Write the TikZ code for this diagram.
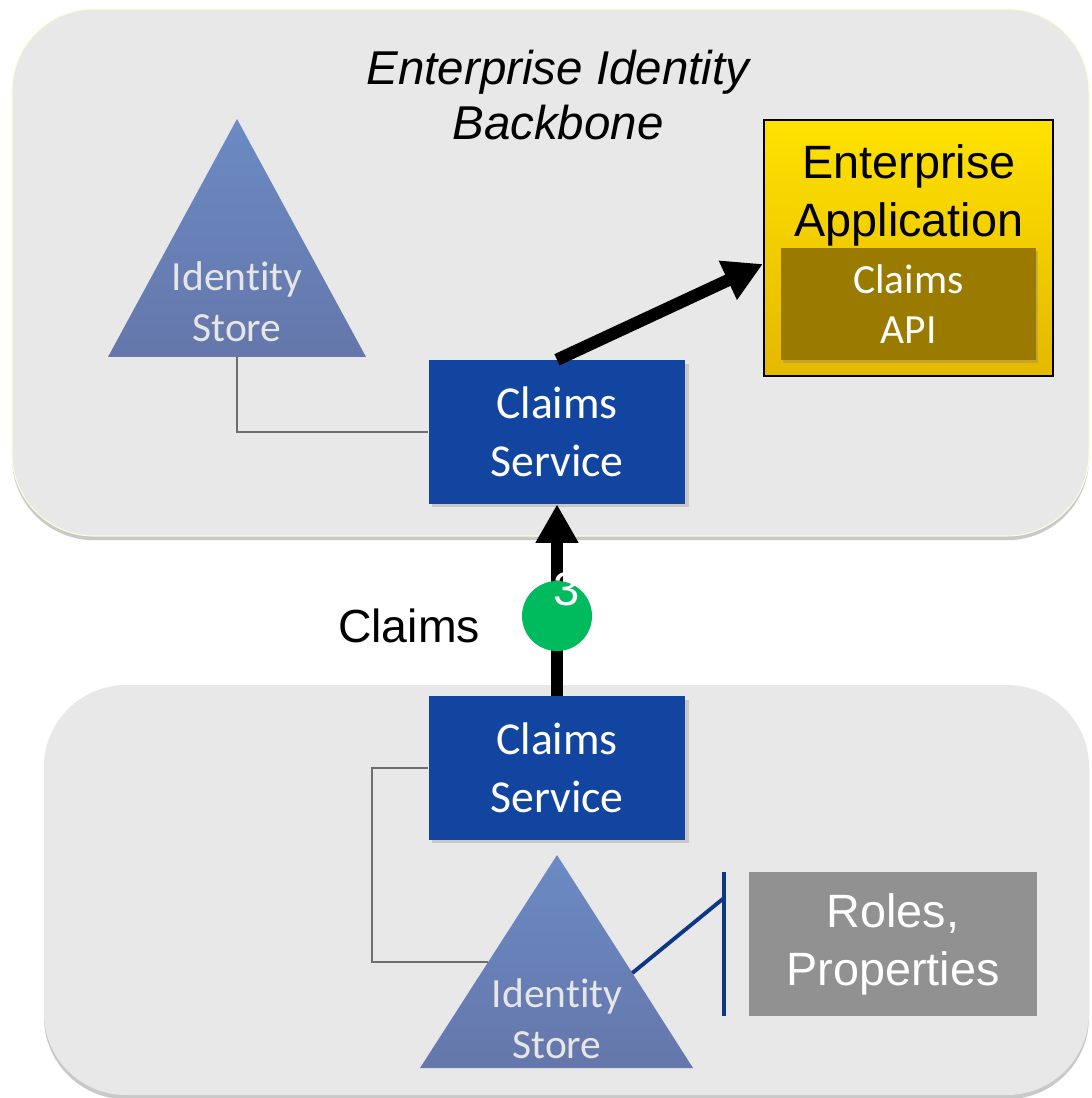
\documentclass[tikz,border=0pt]{standalone}
\usepackage{fontspec}
\setmainfont{Liberation Sans}
\newfontfamily\calibri[Ligatures={NoCommon}]{Carlito}
\usepackage{tikz}
\usepackage{xcolor}
\usetikzlibrary{shapes.geometric, arrows.meta, positioning, calc, shadows}
\definecolor{panelgray}{HTML}{E8E8E8}
\definecolor{svcblue}{HTML}{1245A0}
\definecolor{storetop}{HTML}{6B8AC3}
\definecolor{storebot}{HTML}{6577AB}
\definecolor{storetext}{HTML}{E6E6E6}
\definecolor{appyellow}{HTML}{FFE200}
\definecolor{appgold}{HTML}{E4B800}
\definecolor{apibrown}{HTML}{9A7B00}
\definecolor{attrgray}{HTML}{919191}
\definecolor{badgegreen}{HTML}{00BA5E}
\definecolor{linkgray}{HTML}{6E6E6E}
\definecolor{navy}{HTML}{0C3786}
\tikzstyle{panel} = [rounded corners=0.82cm, fill=panelgray,
                     drop shadow={shadow xshift=0pt, shadow yshift=-1.2pt, fill=black!60, opacity=0.35}]
\tikzstyle{store} = [top color=storetop, bottom color=storebot]
\tikzstyle{storelabel} = [align=center, text=storetext, inner sep=0pt,
                          font=\calibri\fontsize{11.8pt}{14.5pt}\selectfont]
\tikzstyle{service} = [rectangle, minimum width=2.56cm, minimum height=1.43cm,
                       text centered, align=center, fill=svcblue, text=white,
                       font=\calibri\fontsize{13pt}{16.5pt}\selectfont,
                       drop shadow={shadow xshift=1pt, shadow yshift=-1pt, opacity=0.3}]
\tikzstyle{app} = [rectangle, minimum width=2.89cm, minimum height=2.56cm,
                   draw=black, line width=0.6pt, top color=appyellow, bottom color=appgold]
\tikzstyle{apptitle} = [align=center, inner sep=0pt, font=\fontsize{13.3pt}{16.5pt}\selectfont]
\tikzstyle{api} = [rectangle, minimum width=2.55cm, minimum height=1.12cm,
                   align=center, fill=apibrown, text=white,
                   font=\calibri\fontsize{11.8pt}{14.2pt}\selectfont,
                   drop shadow={shadow xshift=0.6pt, shadow yshift=-0.8pt, opacity=0.35}]
\tikzstyle{attr} = [rectangle, minimum width=2.88cm, minimum height=1.43cm,
                    align=center, fill=attrgray, text=white,
                    font=\fontsize{13.3pt}{16.5pt}\selectfont]
\tikzstyle{title} = [align=center, inner sep=0pt, font=\itshape\fontsize{13.5pt}{15.6pt}\selectfont]
\tikzstyle{flowlabel} = [inner sep=0pt, font=\fontsize{13.2pt}{15pt}\selectfont]
\tikzstyle{badge} = [circle, minimum size=0.7cm, inner sep=0pt, fill=badgegreen]
\tikzstyle{num} = [inner sep=0pt, text=white, font=\fontsize{13.4pt}{15pt}\selectfont]
\tikzstyle{fat} = [-{Triangle[length=11pt, width=11.5pt]}, line width=3.5pt]
\tikzstyle{link} = [draw=linkgray, line width=0.45pt]
\tikzstyle{bar} = [draw=navy, line width=1.1pt]

\begin{document}
\begin{tikzpicture}[x=0.01cm, y=-0.01cm]
    \fill[white] (0,0) rectangle (1091,1098);
    \useasboundingbox (0,0) rectangle (1091,1098);

    \path[panel, draw=yellow!15, line width=0.3pt] (12,9) rectangle (1089,536);
    \path[panel] (44,685) rectangle (1089,1095);

    \node[title] (title) at (558,95) {Enterprise Identity\\Backbone};

    \coordinate (top1) at (237,119);
    \coordinate (left1) at (108,357);
    \coordinate (right1) at (366,357);
    \shade[store] (top1) -- (left1) -- (right1) -- cycle;
    \node[storelabel] (store1) at (237,302) {Identity\\Store};

    \node[service] (svc1) at (557,432) {Claims\\Service};
    \node[service] (svc2) at (557,768) {Claims\\Service};

    \node[app] (app) at (908.5,248) {};
    \node[apptitle] (apptitle) at (909,195) {Enterprise\\Application};
    \node[api] (api) at (908.5,304) {Claims\\API};

    \coordinate (base1) at ($(left1)!0.5!(right1)$);
    \draw[link] (base1) |- (svc1.west);

    \draw[fat] (svc1.north) -- ([yshift=-0.16cm]app.west);
    \draw[fat] (svc2.north) -- (svc1.south);

    \node[badge] (badge) at (557,616) {};
    \node[num] (num3) at (567,589) {3};
    \node[flowlabel, anchor=base] (claimslbl) at (409,642) {Claims};

    \coordinate (top2) at (557,855);
    \coordinate (left2) at (420,1068);
    \coordinate (right2) at (693,1068);
    \shade[store] (top2) -- (left2) -- (right2) -- cycle;
    \node[storelabel] (store2) at (557,1019) {Identity\\Store};

    \coordinate (edge2l) at ($(top2)!0.502!(left2)$);
    \coordinate (edge2r) at ($(top2)!0.554!(right2)$);
    \draw[link] (svc2.west) -- ++(-56,0) |- (edge2l);

    \node[attr] (roles) at (893,944) {Roles,\\Properties};
    \draw[bar] ([xshift=-0.24cm]roles.north west) -- ([xshift=-0.24cm]roles.south west);
    \draw[bar] (edge2r) -- ([xshift=-0.24cm, yshift=-0.26cm]roles.north west);
\end{tikzpicture}
\end{document}
